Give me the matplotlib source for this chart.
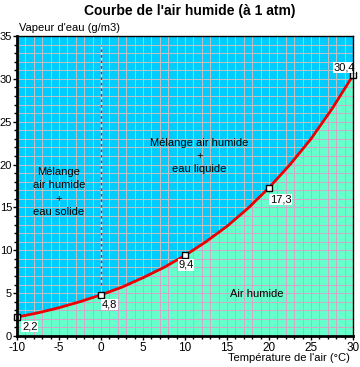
import matplotlib
matplotlib.use('Agg')
import matplotlib.pyplot as plt
import numpy as np
from matplotlib.ticker import MultipleLocator

plt.rcParams['font.family'] = ['Liberation Sans Narrow', 'Liberation Sans', 'DejaVu Sans']
plt.rcParams['axes.unicode_minus'] = False

# courbe de saturation
temp = [-10, -7.5, -5, -2.5, 0, 2.5, 5, 7.5, 10, 12.5, 15, 17.5, 20, 22.5, 25, 27.5, 30]
vapeur = [2.2, 2.7, 3.3, 4.0, 4.8, 5.7, 6.8, 8.0, 9.4, 11.0, 12.8, 14.9, 17.3, 20.0, 23.0, 26.5, 30.4]

# points annotés
pts_t = [-10, 0, 10, 20, 30]
pts_v = [2.2, 4.8, 9.4, 17.3, 30.4]
pts_lbl = ['2,2', '4,8', '9,4', '17,3', '30,4']
lbl_off = [(0.6, -1.1), (0.1, -1.1), (-0.8, -1.1), (0.1, -1.4), (-2.3, 0.9)]

blue = '#00ccff'
green = '#66ffcc'
grid_w = 0.72  # ~1 px

fig = plt.figure(figsize=(3.6, 3.67), dpi=100)
ax = fig.add_axes([17/360, 1 - 336/367, 336/360, 300/367])
ax.set_xlim(-10, 30)
ax.set_ylim(0, 35)
ax.set_facecolor(blue)

# grille grise sur la zone bleue
for x in range(-9, 30):
    ax.axvline(x, color='#c0c0c0', lw=grid_w, zorder=1, antialiased=False)
for y in range(1, 35):
    ax.axhline(y, color='#c0c0c0', lw=grid_w, zorder=1, antialiased=False)

# zone air humide
poly = ax.fill_between(temp, vapeur, 0, color=green, lw=0, zorder=2)
clip = poly.get_paths()[0]
for x in range(-9, 30):
    l = ax.axvline(x, color='#d0a8c8', lw=grid_w, zorder=3, antialiased=False)
    l.set_clip_path(clip, ax.transData)
for y in range(1, 35):
    l = ax.axhline(y, color='#d0a8c8', lw=grid_w, zorder=3, antialiased=False)
    l.set_clip_path(clip, ax.transData)

# ligne de 0 degre
ax.plot([0, 0], [6, 34], color='white', lw=1, zorder=4)
ax.plot([0, 0], [6, 34], color='red', lw=1, ls=(0, (2, 2)), zorder=5)

ax.plot(temp, vapeur, color='#ee0000', lw=2, zorder=6)
ax.plot(pts_t, pts_v, ls='none', marker='s', ms=4.5, mfc='white', mec='black',
        mew=1, zorder=7, clip_on=False)

for t, v, s, (dx, dy) in zip(pts_t, pts_v, pts_lbl, lbl_off):
    ax.text(t + dx, v + dy, s, fontsize=8, ha='left', va='center', zorder=8,
            bbox=dict(facecolor='white', edgecolor='none', pad=0.5))

ax.text(-5, 16.8, 'Mélange\nair humide\n+\neau solide', fontsize=8, ha='center',
        va='center', linespacing=1.4, zorder=8)
ax.text(11.7, 21.0, 'Mélange air humide\n+\neau liquide', fontsize=8, ha='center',
        va='center', linespacing=1.4, zorder=8)
ax.text(18.5, 4.9, 'Air humide', fontsize=8, ha='center', va='center', zorder=8)

ax.xaxis.set_major_locator(MultipleLocator(5))
ax.yaxis.set_major_locator(MultipleLocator(5))
ax.xaxis.set_minor_locator(MultipleLocator(1))
ax.yaxis.set_minor_locator(MultipleLocator(1))
ax.tick_params(which='major', direction='out', length=3, width=1, labelsize=8.5, pad=1.5)
ax.tick_params(axis='y', which='major', labelsize=8, pad=0.5)
ax.tick_params(which='minor', direction='out', length=2, width=1)

for side in ['left', 'bottom']:
    ax.spines[side].set_linewidth(2)
for side in ['top', 'right']:
    ax.spines[side].set_linewidth(1)
for sp in ax.spines.values():
    sp.set_zorder(10)

ax.text(0.005, 1.01, "Vapeur d'eau (g/m3)", transform=ax.transAxes, fontsize=8,
        ha='left', va='bottom')
fig.text(350/360, 1 - 358/367, "Température de l'air (°C)", fontsize=8,
         ha='right', va='center')
fig.text(190/360, 1 - 11/367, "Courbe de l'air humide (à 1 atm)", fontsize=10,
         fontweight='heavy', ha='center', va='center',
         family=['Liberation Sans', 'DejaVu Sans'])

fig.savefig('out.png', dpi=100)
